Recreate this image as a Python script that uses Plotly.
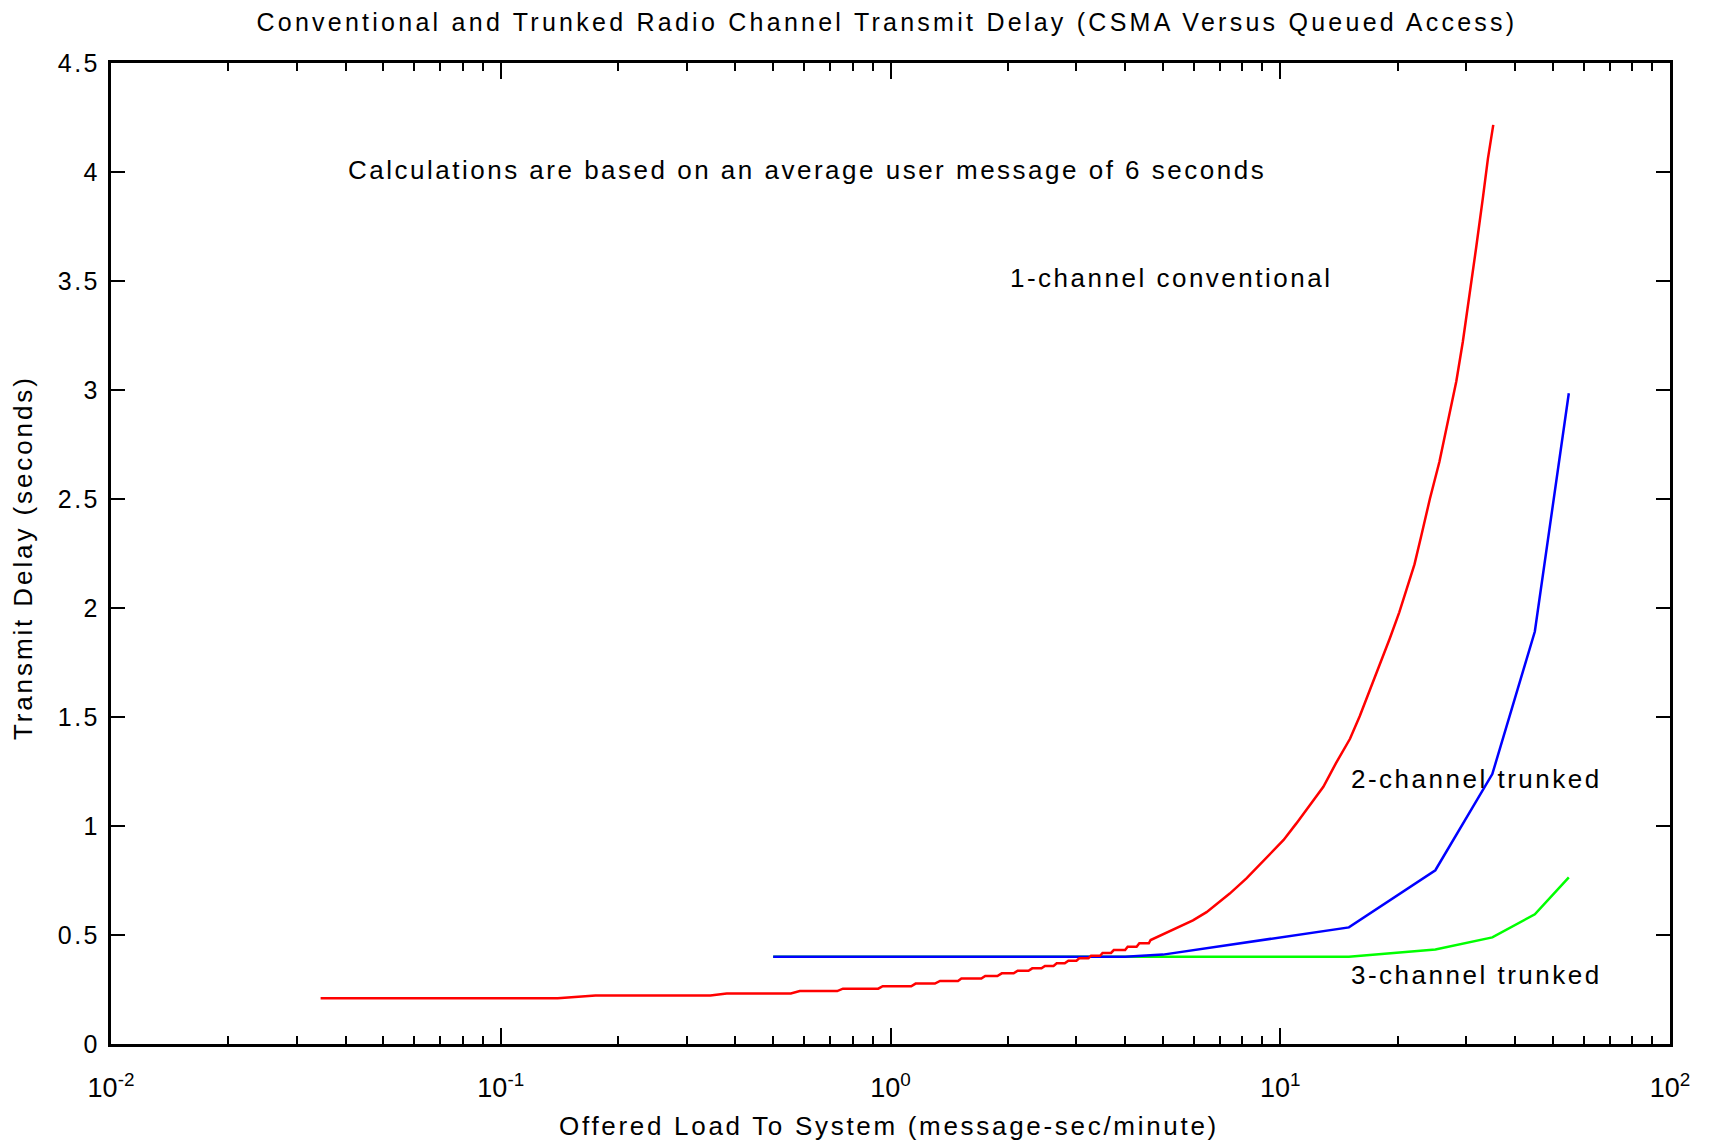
import math
import plotly.graph_objs as go

# 1-channel conventional (CSMA)
red_x = [0.0345, 0.140, 0.175, 0.345, 0.380, 0.555, 0.585, 0.730, 0.755, 0.930,
         0.955, 1.13, 1.16, 1.30, 1.34, 1.49, 1.52, 1.71, 1.75, 1.88,
         1.93, 2.07, 2.12, 2.26, 2.31, 2.44, 2.49, 2.62, 2.67, 2.80,
         2.86, 3.00, 3.05, 3.22, 3.27, 3.45, 3.50, 3.68, 3.74, 4.00,
         4.06, 4.28, 4.35, 4.60, 4.65, 4.96, 5.42, 5.97, 6.47, 7.0,
         7.42, 8.19, 9.2, 10.2, 11.0, 11.9, 12.9, 13.9, 15.1, 16.0,
         16.96, 18.0, 19.1, 20.2, 21.3, 22.1, 23.0, 24.2, 25.6, 26.9,
         28.3, 29.4, 30.6, 31.8, 33.1, 34.1, 35.2]
red_y = [0.210, 0.210, 0.222, 0.222, 0.232, 0.232, 0.243, 0.243, 0.254, 0.254,
         0.265, 0.265, 0.277, 0.277, 0.289, 0.289, 0.300, 0.300, 0.312, 0.312,
         0.324, 0.324, 0.336, 0.336, 0.347, 0.347, 0.358, 0.358, 0.370, 0.370,
         0.382, 0.382, 0.393, 0.393, 0.405, 0.405, 0.418, 0.418, 0.431, 0.431,
         0.446, 0.446, 0.462, 0.462, 0.477, 0.500, 0.531, 0.567, 0.605, 0.653,
         0.690, 0.760, 0.852, 0.936, 1.012, 1.096, 1.180, 1.288, 1.400, 1.505,
         1.620, 1.740, 1.860, 1.980, 2.105, 2.200, 2.330, 2.500, 2.670, 2.850,
         3.040, 3.220, 3.430, 3.650, 3.880, 4.060, 4.216]

# 2-channel trunked (queued)
blue_x = [0.5, 1, 2, 3, 4, 5, 15, 25, 35, 45, 55]
blue_y = [0.40, 0.40, 0.40, 0.40, 0.40, 0.41, 0.535, 0.797, 1.238, 1.892, 2.985]

# 3-channel trunked (queued)
green_x = [0.5, 1, 2, 3, 4, 5, 15, 25, 35, 45, 55]
green_y = [0.40, 0.40, 0.40, 0.40, 0.40, 0.40, 0.40, 0.434, 0.489, 0.595, 0.764]

x_tickvals = [0.01, 0.1, 1, 10, 100]
x_tickexp = ['-2', '-1', '0', '1', '2']
y_tickvals = [0, 0.5, 1, 1.5, 2, 2.5, 3, 3.5, 4, 4.5]

FONT = 'Liberation Sans, Arial, sans-serif'


def spaced(txt, px):
    # the original text is drawn with wide letter spacing
    return '<span style="letter-spacing:%.2fpx">%s</span>' % (px, txt)


fig = go.Figure()

fig.add_trace(go.Scatter(x=green_x, y=green_y, mode='lines',
                         line=dict(color='#00ff00', width=2.5)))
fig.add_trace(go.Scatter(x=blue_x, y=blue_y, mode='lines',
                         line=dict(color='#0000ff', width=2.5)))
fig.add_trace(go.Scatter(x=red_x, y=red_y, mode='lines',
                         line=dict(color='#ff0000', width=2.5)))

# curve labels (x in data units, converted to log10 for the log axis)
labels = [
    (0.0401, 4.007, 'Calculations are based on an average user message of 6 seconds'),
    (2.0, 3.515, '1-channel conventional'),
    (15.0, 1.214, '2-channel trunked'),
    (15.0, 0.316, '3-channel trunked'),
]
for lx, ly, txt in labels:
    fig.add_annotation(x=math.log10(lx), y=ly, text=spaced(txt, 2.5), showarrow=False,
                       xref='x', yref='y', xanchor='left', yanchor='middle',
                       font=dict(family=FONT, size=26, color='black'))

# axis titles placed as paper annotations
fig.add_annotation(x=0.499, y=-0.0836, xref='paper', yref='paper',
                   text=spaced('Offered Load To System (message-sec/minute)', 2.7),
                   showarrow=False, xanchor='center', yanchor='middle',
                   font=dict(family=FONT, size=26, color='black'))
fig.add_annotation(x=-0.056, y=0.496, xref='paper', yref='paper',
                   text=spaced('Transmit Delay (seconds)', 2.9), textangle=-90,
                   showarrow=False, xanchor='center', yanchor='middle',
                   font=dict(family=FONT, size=26, color='black'))

minor_vals = [m * 10 ** e for e in range(-2, 2) for m in range(2, 10)]

fig.update_layout(
    width=1714,
    height=1144,
    showlegend=False,
    plot_bgcolor='white',
    paper_bgcolor='white',
    margin=dict(l=103, r=52, t=55, b=108, autoexpand=False),
    title=dict(text=spaced('Conventional and Trunked Radio Channel Transmit Delay '
                           '(CSMA Versus Queued Access)', 3.25),
               x=0.5128, xanchor='center', y=0.9878, yanchor='middle',
               font=dict(family=FONT, size=25, color='black')),
    xaxis=dict(type='log', range=[-2, 2], automargin=False,
               tickmode='array', tickvals=x_tickvals,
               ticktext=['10<sup>%s</sup>' % e for e in x_tickexp],
               ticks='inside', ticklen=16, tickwidth=1.5, tickcolor='black',
               minor=dict(tickmode='array', tickvals=minor_vals, ticks='inside',
                          ticklen=8, tickwidth=1.5, tickcolor='black', showgrid=False),
               showline=True, linewidth=3, linecolor='black', mirror='allticks',
               showgrid=False, zeroline=False, ticklabelstandoff=18,
               tickfont=dict(family=FONT, size=27, color='black')),
    yaxis=dict(range=[0, 4.5], automargin=False,
               tickmode='array', tickvals=y_tickvals,
               ticktext=[spaced('%g' % v, 2.5) for v in y_tickvals],
               ticks='inside', ticklen=14, tickwidth=1.5, tickcolor='black',
               showline=True, linewidth=3, linecolor='black', mirror='allticks',
               showgrid=False, zeroline=False, ticklabelstandoff=3,
               tickfont=dict(family=FONT, size=25, color='black')),
)

fig.write_html("out.html")
